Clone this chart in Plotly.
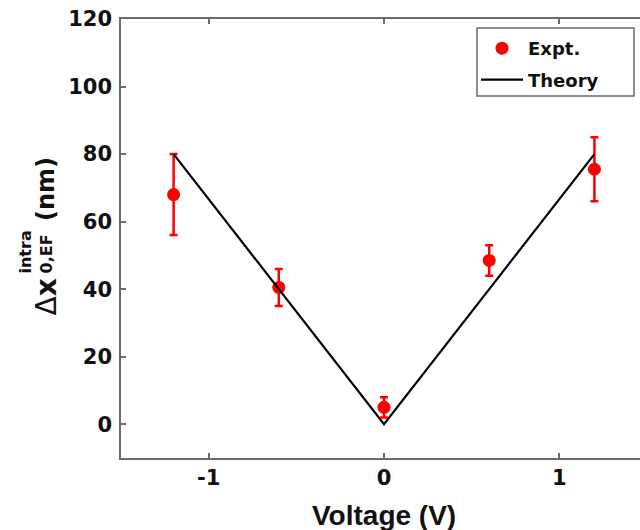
import plotly.graph_objects as go

# ---- data ----
volt_expt = [-1.2, -0.6, 0.0, 0.6, 1.2]
dx_expt = [68.0, 40.5, 5.0, 48.5, 75.5]
dx_err = [12.0, 5.5, 3.0, 4.5, 9.5]

volt_theory = [-1.2, 0.0, 1.2]
dx_theory = [80.0, 0.0, 80.0]

x_tickvals = [-1, 0, 1]
x_ticktext = ["-1", "0", "1"]
y_tickvals = [0, 20, 40, 60, 80, 100, 120]
y_ticktext = ["0", "20", "40", "60", "80", "100", "120"]

W, H = 640, 530
ML, MR, MT, MB = 121, 0, 19, 72
PW, PH = W - ML - MR, H - MT - MB


def px(xp):
    return (xp - ML) / PW


def py(yp):
    return 1 - (yp - MT) / PH


AXC = "#6b6b6b"
TICKFONT = dict(family="DejaVu Sans", size=21, color="#111111", weight="bold")

fig = go.Figure()
fig.add_trace(go.Scatter(
    x=volt_expt, y=dx_expt, mode="markers", name="Expt.",
    marker=dict(color="#ff0000", size=13, line=dict(width=0)),
    error_y=dict(type="data", array=dx_err, color="#ff0000", thickness=2.5, width=4),
    legendgroup="a",
))
fig.add_trace(go.Scatter(
    x=volt_theory, y=dx_theory, mode="lines", name="Theory",
    line=dict(color="#000000", width=2.2),
    legendgroup="b",
))

fig.update_xaxes(
    range=[-1.5, 1.46], tickvals=x_tickvals, ticktext=x_ticktext,
    showline=True, linecolor=AXC, linewidth=1.5, mirror="ticks",
    ticks="inside", ticklen=5, tickcolor=AXC, tickwidth=1.5,
    showgrid=False, zeroline=False, tickfont=TICKFONT, ticklabelstandoff=0,
)
fig.update_yaxes(
    range=[-10, 120], tickvals=y_tickvals, ticktext=y_ticktext,
    showline=True, linecolor=AXC, linewidth=1.5, mirror=False,
    ticks="inside", ticklen=5, tickcolor=AXC, tickwidth=1.5,
    showgrid=False, zeroline=False, tickfont=TICKFONT, ticklabelstandoff=3,
)

ann = []
# x axis title
ann.append(dict(text="<b>Voltage (V)</b>", xref="x", yref="paper", x=0, y=py(515),
                xanchor="center", yanchor="middle", showarrow=False,
                font=dict(family="Liberation Sans", size=28, color="#111111")))
# y axis title pieces (rotated)
yfont = dict(family="DejaVu Sans", color="#111111")
ann.append(dict(text="Δ<b>x</b>", xref="paper", yref="paper", x=px(46), y=py(318),
                xanchor="center", yanchor="bottom", textangle=-90, showarrow=False,
                font=dict(size=28, **yfont)))
ann.append(dict(text="<b>intra</b>", xref="paper", yref="paper", x=px(25), y=py(276),
                xanchor="center", yanchor="bottom", textangle=-90, showarrow=False,
                font=dict(size=16, **yfont)))
ann.append(dict(text="<b>0,EF</b>", xref="paper", yref="paper", x=px(46), y=py(276),
                xanchor="center", yanchor="bottom", textangle=-90, showarrow=False,
                font=dict(size=16, **yfont)))
ann.append(dict(text="<b>(nm)</b>", xref="paper", yref="paper", x=px(46), y=py(223),
                xanchor="center", yanchor="bottom", textangle=-90, showarrow=False,
                font=dict(size=24, **yfont)))

fig.update_layout(
    width=W, height=H, margin=dict(l=ML, r=MR, t=MT, b=MB, pad=0),
    paper_bgcolor="white", plot_bgcolor="white",
    showlegend=True,
    legend=dict(x=px(476), y=py(30), xanchor="left", yanchor="top",
                bgcolor="rgba(0,0,0,0)", borderwidth=0,
                font=dict(family="DejaVu Sans", size=18, color="#111111", weight="bold"),
                traceorder="grouped", tracegroupgap=5, itemwidth=42),
    annotations=ann,
    shapes=[dict(type="rect", xref="paper", yref="paper",
                 x0=px(477), x1=px(634), y0=py(96), y1=py(28),
                 line=dict(color=AXC, width=1.5), fillcolor="white", layer="below")],
)

fig.write_html("out.html", config={"displayModeBar": False},
               post_script="document.body.style.margin='0';document.body.style.padding='0';")
